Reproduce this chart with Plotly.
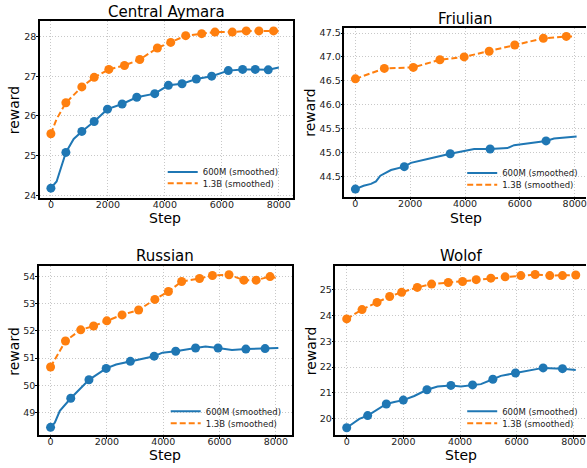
import plotly.graph_objects as go

W, H = 587, 468
BLUE = "#1f77b4"
ORANGE = "#ff7f0e"

# ---------------- data ----------------
# Central Aymara
ca_600_steps = [0, 200, 526, 800, 1086, 1519, 1986, 2500, 3014, 3645, 4124, 4603, 5105, 5643, 6227, 6729, 7173, 7629, 8000]
ca_600_vals = [24.18, 24.35, 25.08, 25.42, 25.61, 25.86, 26.17, 26.30, 26.47, 26.56, 26.77, 26.81, 26.93, 27.00, 27.14, 27.17, 27.17, 27.16, 27.22]
ca_600_mk_steps = [0, 526, 1086, 1519, 1986, 2500, 3014, 3645, 4124, 4603, 5105, 5643, 6227, 6729, 7173, 7629]
ca_600_mk_vals = [24.18, 25.08, 25.61, 25.86, 26.17, 26.30, 26.47, 26.56, 26.77, 26.81, 26.93, 27.00, 27.14, 27.17, 27.17, 27.16]
ca_13_steps = [0, 199, 526, 1086, 1519, 2033, 2582, 3119, 3738, 4206, 4731, 5292, 5759, 6367, 6857, 7301, 7815, 8000]
ca_13_vals = [25.55, 25.92, 26.33, 26.73, 26.97, 27.17, 27.27, 27.42, 27.71, 27.85, 28.02, 28.07, 28.11, 28.11, 28.14, 28.14, 28.14, 28.13]
ca_13_mk_steps = [0, 526, 1086, 1519, 2033, 2582, 3119, 3738, 4206, 4731, 5292, 5759, 6367, 6857, 7301, 7815]
ca_13_mk_vals = [25.55, 26.33, 26.73, 26.97, 27.17, 27.27, 27.42, 27.71, 27.85, 28.02, 28.07, 28.11, 28.11, 28.14, 28.14, 28.14]

# Friulian
fr_600_steps = [0, 300, 570, 752, 910, 1299, 1784, 2027, 2633, 3119, 3459, 3968, 4333, 4915, 5546, 5789, 6274, 6954, 7245, 8070]
fr_600_vals = [44.23, 44.30, 44.34, 44.39, 44.51, 44.63, 44.70, 44.78, 44.86, 44.93, 44.97, 45.03, 45.07, 45.07, 45.09, 45.15, 45.19, 45.24, 45.29, 45.33]
fr_600_mk_steps = [0, 1784, 3459, 4915, 6954]
fr_600_mk_vals = [44.23, 44.70, 44.97, 45.07, 45.24]
fr_13_steps = [0, 1056, 2112, 3083, 3968, 4879, 5813, 6857, 7694, 7973]
fr_13_vals = [46.54, 46.76, 46.78, 46.94, 47.00, 47.12, 47.25, 47.39, 47.43, 47.43]
fr_13_mk_steps = [0, 1056, 2112, 3083, 3968, 4879, 5813, 6857, 7694]
fr_13_mk_vals = [46.54, 46.76, 46.78, 46.94, 47.00, 47.12, 47.25, 47.39, 47.43]

# Russian
ru_600_steps = [0, 150, 329, 717, 1363, 1974, 2327, 2832, 3267, 3678, 3972, 4442, 5147, 5500, 5946, 6440, 6933, 7615, 8085]
ru_600_vals = [48.45, 48.62, 49.06, 49.52, 50.20, 50.62, 50.76, 50.88, 51.00, 51.07, 51.20, 51.25, 51.37, 51.43, 51.37, 51.30, 51.33, 51.35, 51.37]
ru_600_mk_steps = [0, 717, 1363, 1974, 2832, 3678, 4442, 5147, 5946, 6933, 7615]
ru_600_mk_vals = [48.45, 49.52, 50.20, 50.62, 50.88, 51.07, 51.25, 51.37, 51.37, 51.33, 51.35]
ru_13_steps = [0, 529, 1070, 1528, 1998, 2538, 3126, 3702, 4183, 4653, 5288, 5746, 6334, 6862, 7297, 7791, 8061]
ru_13_vals = [50.67, 51.63, 52.04, 52.18, 52.37, 52.59, 52.77, 53.16, 53.45, 53.82, 53.93, 54.04, 54.07, 53.87, 53.87, 54.00, 53.94]
ru_13_mk_steps = [0, 529, 1070, 1528, 1998, 2538, 3126, 3702, 4183, 4653, 5288, 5746, 6334, 6862, 7297, 7791]
ru_13_mk_vals = [50.67, 51.63, 52.04, 52.18, 52.37, 52.59, 52.77, 53.16, 53.45, 53.82, 53.93, 54.04, 54.07, 53.87, 53.87, 54.00]

# Wolof
wo_600_steps = [0, 446, 740, 1398, 1680, 1998, 2385, 2832, 3208, 3678, 4031, 4442, 4736, 5159, 5440, 5958, 6933, 7615, 8085]
wo_600_vals = [19.65, 19.99, 20.12, 20.57, 20.65, 20.72, 20.88, 21.12, 21.25, 21.29, 21.25, 21.31, 21.34, 21.53, 21.66, 21.77, 21.97, 21.94, 21.89]
wo_600_mk_steps = [0, 740, 1398, 1998, 2832, 3678, 4442, 5159, 5958, 6933, 7615]
wo_600_mk_vals = [19.65, 20.12, 20.57, 20.72, 21.12, 21.29, 21.31, 21.53, 21.77, 21.97, 21.94]
wo_13_steps = [0, 541, 1070, 1516, 1939, 2491, 2996, 3584, 4089, 4571, 5088, 5593, 6146, 6651, 7168, 7615, 8085]
wo_13_vals = [23.87, 24.23, 24.51, 24.74, 24.90, 25.09, 25.22, 25.28, 25.32, 25.39, 25.45, 25.50, 25.55, 25.59, 25.55, 25.55, 25.57]
wo_13_mk_steps = wo_13_steps
wo_13_mk_vals = wo_13_vals

titles = ["Central Aymara", "Friulian", "Russian", "Wolof"]
x_ticks = [0, 2000, 4000, 6000, 8000]
y_ticks = [[24, 25, 26, 27, 28],
           [44.5, 45.0, 45.5, 46.0, 46.5, 47.0, 47.5],
           [49, 50, 51, 52, 53, 54],
           [20, 21, 22, 23, 24, 25]]
labels = ["600M (smoothed)", "1.3B (smoothed)"]

panels = [
    (ca_600_steps, ca_600_vals, ca_600_mk_steps, ca_600_mk_vals, ca_13_steps, ca_13_vals, ca_13_mk_steps, ca_13_mk_vals),
    (fr_600_steps, fr_600_vals, fr_600_mk_steps, fr_600_mk_vals, fr_13_steps, fr_13_vals, fr_13_mk_steps, fr_13_mk_vals),
    (ru_600_steps, ru_600_vals, ru_600_mk_steps, ru_600_mk_vals, ru_13_steps, ru_13_vals, ru_13_mk_steps, ru_13_mk_vals),
    (wo_600_steps, wo_600_vals, wo_600_mk_steps, wo_600_mk_vals, wo_13_steps, wo_13_vals, wo_13_mk_steps, wo_13_mk_vals),
]

# ---------------- layout geometry (pixels) ----------------
# plot boxes: left, right, top, bottom
boxes = [(40, 293, 21.5, 199), (345, 587, 28, 198), (39, 292, 268, 438), (336, 587, 268, 438)]
x_ranges = [(-385, 8480), (-400, 8412), (-413, 8553), (-398, 8446)]
y_ranges = [(23.94, 28.38), (44.07, 47.61), (48.16, 54.38), (19.36, 25.91)]
yfmt = ["d", ".1f", "d", "d"]
title_pos = [(167, 12), (466, 19), (165, 258), (462, 258)]
step_pos = [(165, 219), (467, 219), (165, 458), (462, 458)]
reward_pos = [(14, 110), (311, 113), (14, 353), (311, 353)]
legend_pos = [(163, 173, 184.5), (463, 174, 186), (166, 414, 426), (463, 414, 426)]

FONT = "DejaVu Sans"
GRID = dict(showgrid=True, gridcolor="#c8c8c8", griddash="1px,2px", gridwidth=1)
fig = go.Figure()
layout = dict(width=W, height=H, margin=dict(l=0, r=0, t=0, b=0),
              paper_bgcolor="white", plot_bgcolor="white",
              font=dict(family=FONT, color="#222"), annotations=[])


def px_x(v):
    return v / W


def px_y(v):
    return 1 - v / H


for i, p in enumerate(panels):
    n = i + 1
    xa = "x" if n == 1 else f"x{n}"
    ya = "y" if n == 1 else f"y{n}"
    l, r, t, b = boxes[i]
    right_col = i in (1, 3)
    layout[f"xaxis{'' if n == 1 else n}"] = dict(
        domain=[px_x(l), px_x(r)], anchor=ya, range=list(x_ranges[i]),
        tickvals=x_ticks, tickformat="d", showline=True, linecolor="black", linewidth=1.5,
        mirror=True, ticks="outside", ticklen=2, tickcolor="black", ticklabelstandoff=-5,
        ticklabeloverflow="allow",
        zeroline=False, tickfont=dict(size=9.5, color="#222"), **GRID,
    )
    layout[f"yaxis{'' if n == 1 else n}"] = dict(
        domain=[px_y(b), px_y(t)], anchor=xa, range=list(y_ranges[i]),
        tickvals=y_ticks[i], tickformat=yfmt[i], showline=True, linecolor="black", linewidth=1.5,
        mirror=(not right_col), ticks="outside", ticklen=2, tickcolor="black", ticklabelstandoff=-2,
        ticklabeloverflow="allow",
        zeroline=False, tickfont=dict(size=9.5, color="#222"), **GRID,
    )
    s6, v6, ms6, mv6, s13, v13, ms13, mv13 = p
    lg1 = "legend" if i == 0 else f"legend{2 * i + 1}"
    lg2 = f"legend{2 * i + 2}"
    fig.add_trace(go.Scatter(x=s6, y=v6, mode="lines", line=dict(color=BLUE, width=2),
                             name=labels[0], xaxis=xa, yaxis=ya, legend=lg1))
    fig.add_trace(go.Scatter(x=ms6, y=mv6, mode="markers", marker=dict(color=BLUE, size=9),
                             showlegend=False, xaxis=xa, yaxis=ya))
    fig.add_trace(go.Scatter(x=s13, y=v13, mode="lines", line=dict(color=ORANGE, width=2, dash="6px,3px"),
                             name=labels[1], xaxis=xa, yaxis=ya, legend=lg2))
    fig.add_trace(go.Scatter(x=ms13, y=mv13, mode="markers", marker=dict(color=ORANGE, size=9),
                             showlegend=False, xaxis=xa, yaxis=ya))
    lx, ly1, ly2 = legend_pos[i]
    for lg, ly in ((lg1, ly1), (lg2, ly2)):
        layout[lg] = dict(x=px_x(lx), y=px_y(ly), xanchor="left", yanchor="middle",
                          bgcolor="rgba(0,0,0,0)", borderwidth=0,
                          font=dict(size=8.5, color="#222", family=FONT), itemwidth=30)
    tx, ty = title_pos[i]
    layout["annotations"].append(dict(text=titles[i], x=px_x(tx), y=px_y(ty), xref="paper", yref="paper",
                                      showarrow=False, xanchor="center", yanchor="middle",
                                      font=dict(size=15, color="black", family=FONT)))
    sx, sy = step_pos[i]
    layout["annotations"].append(dict(text="Step", x=px_x(sx), y=px_y(sy), xref="paper", yref="paper",
                                      showarrow=False, xanchor="center", yanchor="middle",
                                      font=dict(size=14, color="black", family=FONT)))
    rx, ry = reward_pos[i]
    layout["annotations"].append(dict(text="reward", x=px_x(rx), y=px_y(ry), xref="paper", yref="paper",
                                      showarrow=False, xanchor="center", yanchor="middle", textangle=-90,
                                      font=dict(size=14, color="black", family=FONT)))

fig.update_layout(**layout)
fig.write_html("out.html", config={"displayModeBar": False},
               post_script="document.body.style.margin='0';document.body.style.overflow='hidden';")
